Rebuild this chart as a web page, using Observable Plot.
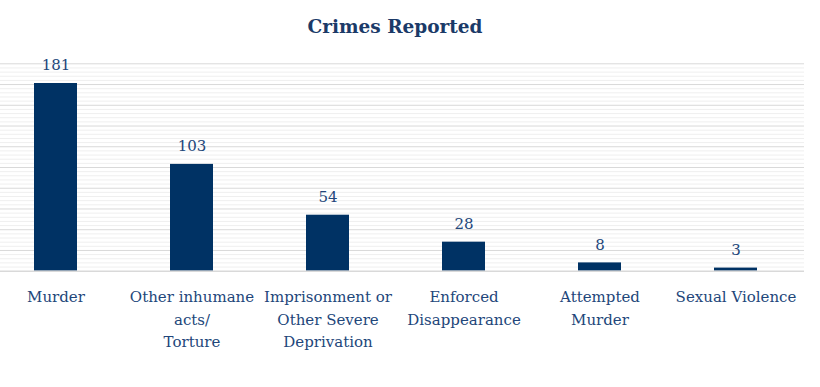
<!DOCTYPE html>
<html>
<head>
<meta charset="utf-8">
<script src="https://cdn.jsdelivr.net/npm/d3@7"></script>
<script src="https://cdn.jsdelivr.net/npm/@observablehq/plot@0.6"></script>
<style>
  html, body { margin: 0; padding: 0; background: #fff; }
  #title { height: 50px; line-height: 54px; text-align: center; padding-right: 30px; font-family: "DejaVu Serif", serif; font-weight: bold; font-size: 18.5px; color: #1b3a68; }
  #chart svg { display: block; }
</style>
</head>
<body>
<div id="title">Crimes Reported</div>
<div id="chart"></div>
<script>
const categories = ["Murder", "Other inhumane acts/ Torture", "Imprisonment or Other Severe Deprivation", "Enforced Disappearance", "Attempted Murder", "Sexual Violence"];
const values = [181, 103, 54, 28, 8, 3];
const tickLabels = ["Murder", "Other inhumane\nacts/\nTorture", "Imprisonment or\nOther Severe\nDeprivation", "Enforced\nDisappearance", "Attempted\nMurder", "Sexual Violence"];
const majorTicks = [0, 20, 40, 60, 80, 100, 120, 140, 160, 180, 200];
const minorTicks = d3.range(0, 201, 4).filter(v => v % 20 !== 0);

const data = categories.map((c, i) => ({category: c, value: values[i], label: tickLabels[i]}));
const labelOf = new Map(data.map(d => [d.category, d.label]));

const chart = Plot.plot({
  width: 820,
  height: 337,
  marginLeft: 0,
  marginRight: 16,
  marginTop: 13.3,
  marginBottom: 116.3,
  style: {fontFamily: "DejaVu Serif, serif", color: "#22467a", background: "#fff"},
  x: {domain: categories, paddingInner: 0.685, paddingOuter: 0.29, align: 0.415, label: null},
  y: {domain: [0, 200], axis: null},
  marks: [
    Plot.ruleY(minorTicks, {stroke: "#efefef", strokeWidth: 1}),
    Plot.ruleY(majorTicks.filter(v => v > 0), {stroke: "#d9d9d9", strokeWidth: 1}),
    Plot.barY(data, {x: "category", y: "value", fill: "#003264"}),
    Plot.ruleY([0], {stroke: "#d9d9d9", strokeWidth: 1.5}),
    Plot.text(data, {x: "category", y: "value", text: d => String(d.value), dy: -18, fontSize: 15, fill: "#22467a"}),
    Plot.axisX({tickSize: 0, tickPadding: 15, fontSize: 15, lineHeight: 1.5, tickFormat: d => labelOf.get(d), fill: "#22467a", label: null})
  ]
});
document.getElementById("chart").appendChild(chart);
</script>
</body>
</html>
